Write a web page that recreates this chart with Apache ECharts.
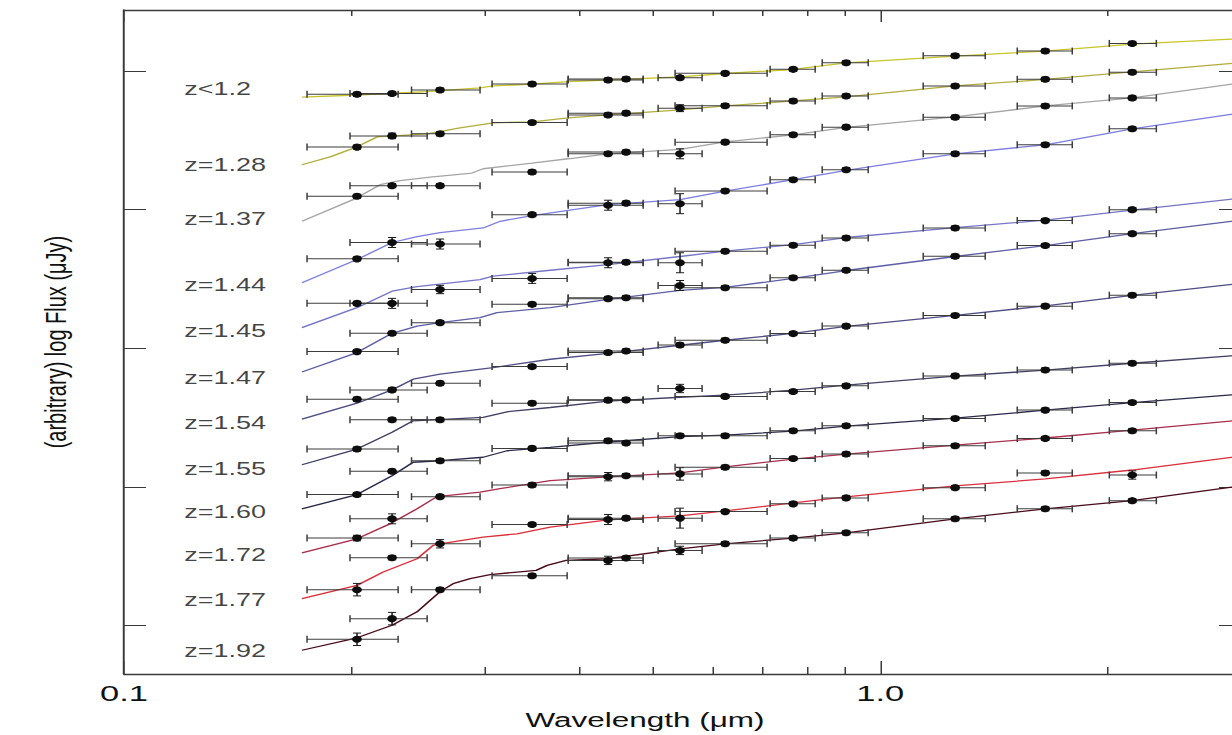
<!DOCTYPE html>
<html><head><meta charset="utf-8">
<script src="https://cdn.jsdelivr.net/npm/echarts@6/dist/echarts.min.js"></script>
<style>
html,body{margin:0;padding:0;background:#fff;overflow:hidden;width:1232px;height:735px;}
#chart{position:absolute;left:0;top:0;width:840px;height:735px;transform:scaleX(1.5);transform-origin:0 0;}
</style></head><body><div id="chart"></div>
<script>
// ---- data ----
const redshiftLabels = ['z<1.2','z=1.28','z=1.37','z=1.44','z=1.45','z=1.47','z=1.54','z=1.55','z=1.60','z=1.72','z=1.77','z=1.92'];
const labelFlux = [3.874, 3.327, 2.932, 2.460, 2.126, 1.788, 1.460, 1.133, 0.820, 0.511, 0.187, -0.183];
const labelAnchorWave = 0.1201;

const bandWave = [0.2033, 0.2262, 0.2618, 0.3465, 0.4367, 0.4613, 0.5436, 0.6237, 0.7673, 0.9016, 1.2564, 1.6530, 2.1544];
const bandLo   = [0.1746, 0.1990, 0.2400, 0.3067, 0.3867, 0.3867, 0.5085, 0.5355, 0.7152, 0.8381, 1.1399, 1.5178, 2.0090];
const bandHi   = [0.2304, 0.2517, 0.2957, 0.3855, 0.4859, 0.4859, 0.5814, 0.7087, 0.8204, 0.9641, 1.3768, 1.7947, 2.3183];

const obs_z120 = [3.832,3.838,3.863,3.906,3.935,3.942,3.952,3.983,4.012,4.060,4.110,4.144,4.199];
const obs_z128 = [3.451,3.532,3.547,3.628,3.683,3.696,3.732,3.750,3.784,3.820,3.892,3.940,3.991];
const obs_z137 = [3.096,3.173,3.173,3.271,3.403,3.415,3.403,3.487,3.540,3.595,3.667,3.748,3.806];
const obs_z144 = [2.645,2.763,2.752,2.964,3.032,3.047,3.043,3.135,3.216,3.288,3.403,3.468,3.583];
const obs_z145 = [2.324,2.324,2.424,2.504,2.617,2.621,2.617,2.700,2.743,2.796,2.868,2.921,3.000];
const obs_z147 = [1.976,2.108,2.185,2.317,2.358,2.365,2.453,2.437,2.509,2.563,2.664,2.741,2.827];
const obs_z154 = [1.633,1.700,1.748,1.868,1.969,1.981,2.024,2.058,2.106,2.160,2.237,2.304,2.383];
const obs_z155 = [1.273,1.484,1.484,1.604,1.626,1.628,1.710,1.653,1.688,1.729,1.801,1.844,1.892];
const obs_z160 = [0.945,1.113,1.189,1.278,1.333,1.317,1.369,1.369,1.405,1.441,1.494,1.554,1.609];
const obs_z172 = [0.631,0.770,0.930,1.014,1.074,1.081,1.094,1.142,1.205,1.237,1.297,1.350,1.405];
const obs_z177 = [0.259,0.489,0.590,0.729,0.765,0.775,0.775,0.822,0.878,0.921,0.995,1.101,1.086];
const obs_z192 = [-0.099,0.050,0.259,0.360,0.470,0.487,0.542,0.590,0.631,0.669,0.770,0.842,0.901];

const err_z120 = [0.015,0.015,0.015,0.015,0.015,0.015,0.015,0.015,0.015,0.015,0.015,0.015,0.015];
const err_z128 = [0.015,0.020,0.015,0.015,0.015,0.015,0.025,0.015,0.015,0.015,0.015,0.015,0.015];
const err_z137 = [0.015,0.015,0.015,0.015,0.015,0.015,0.036,0.015,0.015,0.015,0.015,0.015,0.015];
const err_z144 = [0.015,0.036,0.036,0.015,0.036,0.015,0.072,0.015,0.015,0.015,0.015,0.015,0.015];
const err_z145 = [0.015,0.036,0.030,0.036,0.036,0.015,0.072,0.015,0.015,0.015,0.015,0.015,0.015];
const err_z147 = [0.015,0.015,0.015,0.015,0.015,0.015,0.036,0.015,0.015,0.015,0.015,0.015,0.015];
const err_z154 = [0.015,0.015,0.015,0.015,0.015,0.015,0.015,0.015,0.015,0.015,0.015,0.015,0.015];
const err_z155 = [0.015,0.015,0.015,0.015,0.015,0.015,0.030,0.015,0.015,0.015,0.015,0.015,0.015];
const err_z160 = [0.015,0.015,0.015,0.015,0.015,0.015,0.015,0.015,0.015,0.015,0.015,0.015,0.015];
const err_z172 = [0.020,0.036,0.015,0.015,0.030,0.015,0.045,0.015,0.015,0.015,0.015,0.015,0.015];
const err_z177 = [0.045,0.015,0.030,0.015,0.036,0.015,0.072,0.015,0.015,0.015,0.015,0.015,0.030];
const err_z192 = [0.045,0.045,0.015,0.015,0.030,0.015,0.030,0.015,0.015,0.015,0.015,0.015,0.015];

const model_z120 = [[0.1719,3.811],[0.2033,3.827],[0.2517,3.851],[0.2957,3.878],[0.3077,3.892],[0.3465,3.906],[0.3867,3.923],[0.4367,3.935],[0.5436,3.957],[0.6237,3.982],[0.7673,4.011],[0.9016,4.058],[1.2564,4.108],[1.6530,4.144],[2.1544,4.194],[3.0,4.234]];
const model_z128 = [[0.1719,3.324],[0.1873,3.381],[0.2033,3.453],[0.2162,3.525],[0.2517,3.547],[0.2782,3.590],[0.2957,3.612],[0.3077,3.626],[0.3465,3.633],[0.3867,3.662],[0.4367,3.683],[0.5436,3.719],[0.6237,3.748],[0.7673,3.784],[0.9016,3.813],[1.2564,3.892],[1.6530,3.939],[2.1544,3.993],[3.0,4.061]];
const model_z137 = [[0.1719,2.916],[0.2009,3.072],[0.2182,3.180],[0.2318,3.209],[0.2540,3.235],[0.2886,3.264],[0.2985,3.295],[0.3465,3.336],[0.3867,3.367],[0.4367,3.403],[0.5436,3.435],[0.6237,3.489],[0.7673,3.540],[0.9016,3.594],[1.2564,3.669],[1.6530,3.748],[2.1544,3.806],[3.0,3.914]];
const model_z144 = [[0.1719,2.473],[0.2033,2.640],[0.2262,2.763],[0.2441,2.806],[0.2618,2.835],[0.2985,2.868],[0.3144,2.916],[0.3465,2.957],[0.3867,2.995],[0.4367,3.036],[0.5436,3.072],[0.6237,3.133],[0.7673,3.216],[0.9016,3.284],[1.2564,3.403],[1.6530,3.468],[2.1544,3.583],[3.0,3.698]];
const model_z145 = [[0.1719,2.149],[0.2033,2.293],[0.2262,2.412],[0.2441,2.444],[0.2957,2.496],[0.3077,2.520],[0.3661,2.563],[0.4367,2.604],[0.5436,2.662],[0.6237,2.701],[0.7673,2.748],[0.9016,2.799],[1.2564,2.871],[1.6530,2.924],[2.1544,2.996],[3.0,3.083]];
const model_z147 = [[0.1719,1.829],[0.2033,1.969],[0.2262,2.108],[0.2441,2.160],[0.2618,2.185],[0.2957,2.221],[0.3113,2.257],[0.3661,2.293],[0.4367,2.353],[0.5436,2.417],[0.6237,2.439],[0.7673,2.504],[0.9016,2.561],[1.2564,2.662],[1.6530,2.741],[2.1544,2.827],[3.0,2.924]];
const model_z154 = [[0.1719,1.489],[0.2033,1.604],[0.2262,1.700],[0.2412,1.777],[0.2618,1.813],[0.3077,1.861],[0.3661,1.921],[0.4367,1.964],[0.5436,2.022],[0.6237,2.058],[0.7673,2.108],[0.9016,2.158],[1.2564,2.237],[1.6530,2.306],[2.1544,2.381],[3.0,2.468]];
const model_z155 = [[0.1719,1.160],[0.2033,1.273],[0.2262,1.394],[0.2412,1.477],[0.2985,1.501],[0.3210,1.542],[0.3661,1.573],[0.4367,1.619],[0.5436,1.647],[0.6237,1.662],[0.7673,1.698],[0.9016,1.734],[1.2564,1.799],[1.6530,1.842],[2.1544,1.892],[3.0,1.950]];
const model_z160 = [[0.1719,0.842],[0.2033,0.945],[0.2262,1.081],[0.2412,1.178],[0.2618,1.189],[0.2985,1.214],[0.3210,1.261],[0.3661,1.286],[0.4367,1.324],[0.5436,1.363],[0.6237,1.374],[0.7673,1.403],[0.9016,1.439],[1.2564,1.496],[1.6530,1.554],[2.1544,1.608],[3.0,1.669]];
const model_z172 = [[0.1719,0.525],[0.2033,0.626],[0.2262,0.741],[0.2441,0.842],[0.2594,0.930],[0.2957,0.962],[0.3172,0.991],[0.3661,1.045],[0.4367,1.072],[0.5436,1.101],[0.6237,1.144],[0.7673,1.201],[0.9016,1.237],[1.2564,1.302],[1.6530,1.353],[2.1544,1.410],[3.0,1.482]];
const model_z177 = [[0.1719,0.194],[0.2033,0.290],[0.2202,0.386],[0.2441,0.482],[0.2563,0.578],[0.2618,0.590],[0.2985,0.638],[0.3310,0.662],[0.3661,0.710],[0.4367,0.763],[0.5436,0.791],[0.6237,0.827],[0.7673,0.885],[0.9016,0.928],[1.2564,1.007],[1.6530,1.058],[2.1544,1.122],[3.0,1.223]];
const model_z192 = [[0.1719,-0.178],[0.2033,-0.088],[0.2262,0.002],[0.2441,0.099],[0.2618,0.245],[0.2724,0.302],[0.2869,0.338],[0.3049,0.367],[0.3310,0.386],[0.3508,0.398],[0.3627,0.434],[0.3843,0.470],[0.4367,0.482],[0.5436,0.554],[0.6237,0.590],[0.7673,0.631],[0.9016,0.669],[1.2564,0.770],[1.6530,0.842],[2.1544,0.901],[3.0,1.007]];

const modelColors = ['#c9c52a','#b3ad3e','#a6a6a6','#7f7fdf','#7676c6','#5f5fa6','#4f4f85','#414165','#2a2a4a','#a8304e','#d8303c','#4a0c1a'];

const xMajorTicks = [0.1, 1];
const xMinorTicks = [0.2,0.3,0.4,0.5,0.6,0.7,0.8,0.9,2,3];
const yTicks = [0,1,2,3,4];

// ---- assembly ----
const obsList = [obs_z120,obs_z128,obs_z137,obs_z144,obs_z145,obs_z147,obs_z154,obs_z155,obs_z160,obs_z172,obs_z177,obs_z192];
const errList = [err_z120,err_z128,err_z137,err_z144,err_z145,err_z147,err_z154,err_z155,err_z160,err_z172,err_z177,err_z192];
const modelList = [model_z120,model_z128,model_z137,model_z144,model_z145,model_z147,model_z154,model_z155,model_z160,model_z172,model_z177,model_z192];

const S = 1.5, CW = 840;
const axisColor = '#3a3a3a';
const FONT = 'Liberation Sans, Arial, Helvetica, sans-serif';

const pointData = [], errData = [];
obsList.forEach((obs, r) => {
  obs.forEach((v, i) => {
    pointData.push([bandWave[i], v]);
    errData.push([bandWave[i], v, bandLo[i], bandHi[i], errList[r][i]]);
  });
});

const lineSeries = modelList.map((m, r) => ({
  type: 'line', name: redshiftLabels[r], data: m, showSymbol: false, symbol: 'none',
  lineStyle: { color: modelColors[r], width: 1.3 }, itemStyle: { color: modelColors[r] },
  z: 2, silent: true, xAxisIndex: 0, yAxisIndex: 0
}));

function renderErr(params, api) {
  const x = api.value(0), y = api.value(1), lo = api.value(2), hi = api.value(3), e = api.value(4);
  const pL = api.coord([lo, y]), pR = api.coord([hi, y]);
  const pT = api.coord([x, y + e]), pB = api.coord([x, y - e]);
  const hc = 3.5, vc = 2.7;
  const st = { stroke: '#3c3c3c', lineWidth: 1 };
  const sv = { stroke: '#1a1a1a', lineWidth: 1 };
  return { type: 'group', children: [
    { type: 'line', shape: { x1: pL[0], y1: pL[1], x2: pR[0], y2: pR[1] }, style: st },
    { type: 'line', shape: { x1: pL[0], y1: pL[1] - hc, x2: pL[0], y2: pL[1] + hc }, style: st },
    { type: 'line', shape: { x1: pR[0], y1: pR[1] - hc, x2: pR[0], y2: pR[1] + hc }, style: st },
    { type: 'line', shape: { x1: pT[0], y1: pT[1], x2: pB[0], y2: pB[1] }, style: sv },
    { type: 'line', shape: { x1: pT[0] - vc, y1: pT[1], x2: pT[0] + vc, y2: pT[1] }, style: sv },
    { type: 'line', shape: { x1: pB[0] - vc, y1: pB[1], x2: pB[0] + vc, y2: pB[1] }, style: sv }
  ]};
}

const logCommon = { type: 'log', logBase: 10, min: 0.1, max: 3, splitLine: { show: false }, minorTick: { show: false } };
const tickLine = { color: axisColor, width: 1 };
const frameLine = { show: true, onZero: false, lineStyle: { color: axisColor, width: 1.3 } };
const noLine = { show: false, onZero: false };

const option = {
  animation: false,
  backgroundColor: '#ffffff',
  grid: { left: 124 / S, right: CW - 1241 / S, top: 10, bottom: 59 },
  xAxis: [
    Object.assign({}, logCommon, {
      position: 'bottom', axisLine: frameLine,
      axisTick: { show: true, inside: true, length: 13, customValues: xMajorTicks, lineStyle: tickLine },
      axisLabel: { show: true, customValues: xMajorTicks, formatter: v => Number(v).toFixed(1),
        fontSize: 23, fontFamily: FONT, color: '#111', margin: 7 },
      name: 'Wavelength (\u03bcm)', nameLocation: 'middle', nameGap: 30,
      nameTextStyle: { fontSize: 21, fontFamily: FONT, color: '#111', padding: [0, 50, 0, 0] }
    }),
    Object.assign({}, logCommon, {
      position: 'bottom', axisLine: noLine,
      axisTick: { show: true, inside: true, length: 7, customValues: xMinorTicks, lineStyle: tickLine },
      axisLabel: { show: false }
    }),
    Object.assign({}, logCommon, {
      position: 'top', axisLine: frameLine,
      axisTick: { show: true, inside: true, length: 12, customValues: xMajorTicks, lineStyle: tickLine },
      axisLabel: { show: false }
    }),
    Object.assign({}, logCommon, {
      position: 'top', axisLine: noLine,
      axisTick: { show: true, inside: true, length: 6, customValues: xMinorTicks, lineStyle: tickLine },
      axisLabel: { show: false }
    })
  ],
  yAxis: [
    { type: 'value', position: 'left', min: -0.35, max: 4.44, splitLine: { show: false },
      axisLine: frameLine,
      axisTick: { show: true, inside: true, length: 22 / S, customValues: yTicks, lineStyle: tickLine },
      axisLabel: { show: false },
      name: '(arbitrary) log Flux (\u03bcJy)', nameLocation: 'middle', nameRotate: 90, nameGap: 36,
      nameTextStyle: { fontSize: 20, fontFamily: FONT, color: '#111' } },
    { type: 'value', position: 'right', min: -0.35, max: 4.44, splitLine: { show: false },
      axisLine: frameLine,
      axisTick: { show: true, inside: true, length: 22 / S, customValues: yTicks, lineStyle: tickLine },
      axisLabel: { show: false } }
  ],
  series: lineSeries.concat([
    { type: 'custom', name: 'errors', renderItem: renderErr, data: errData,
      dimensions: ['wave', 'flux', 'lo', 'hi', 'err'], encode: { x: 0, y: 1 },
      z: 3, silent: true, xAxisIndex: 0, yAxisIndex: 0 },
    { type: 'scatter', name: 'photometry', data: pointData, symbol: 'circle', symbolSize: [6.5, 7],
      itemStyle: { color: '#0d0d0d', opacity: 1 }, z: 4, silent: true, xAxisIndex: 0, yAxisIndex: 0 },
    { type: 'scatter', name: 'labels', symbolSize: 0, silent: true, z: 5, xAxisIndex: 0, yAxisIndex: 0,
      data: redshiftLabels.map((t, r) => ({ name: t, value: [labelAnchorWave, labelFlux[r]] })),
      label: { show: true, position: 'right', distance: 0, formatter: '{b}', fontSize: 18, fontFamily: FONT, color: '#111' } }
  ])
};

const chart = echarts.init(document.getElementById('chart'), null, { renderer: 'svg' });
chart.setOption(option);
</script></body></html>
